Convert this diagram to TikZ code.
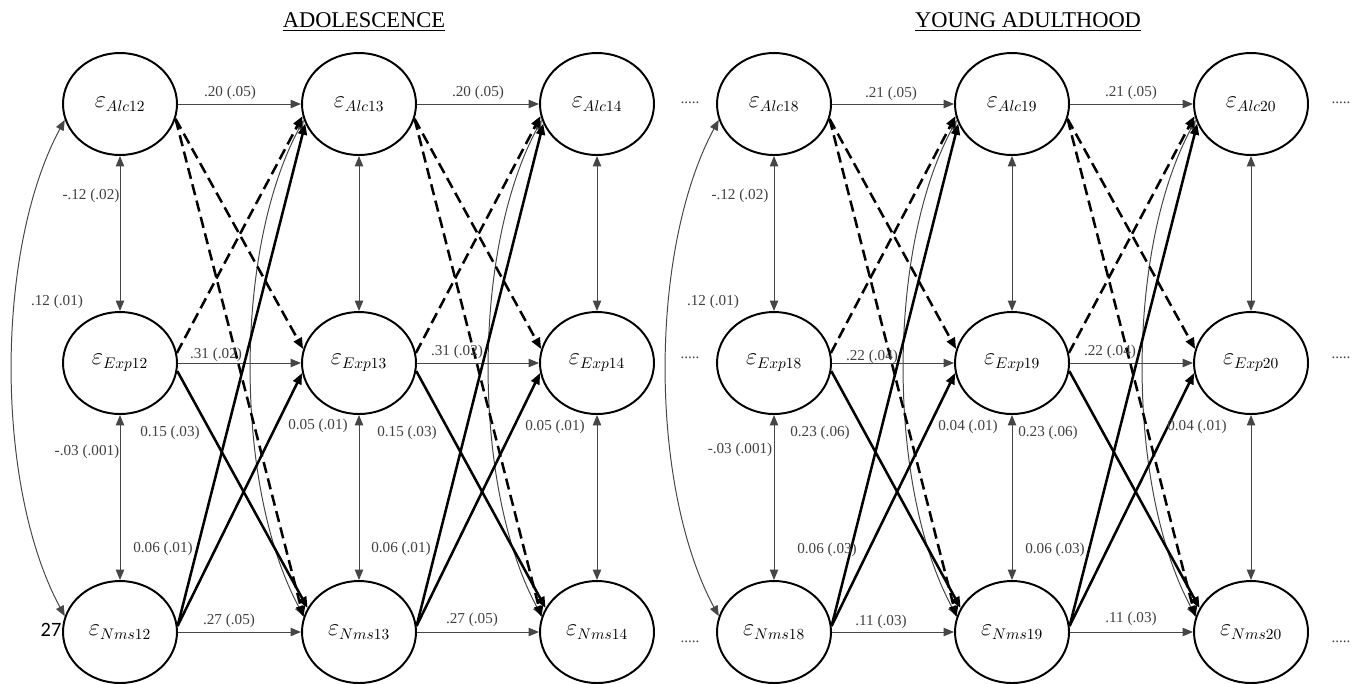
\documentclass[tikz,border=0pt]{standalone}
\usepackage{fontspec}
\setmainfont{Liberation Serif}
\newfontfamily\pagenofont{Carlito}
\usepackage{amsmath}
\usepackage{tikz}
\usetikzlibrary{shapes.geometric, arrows.meta, positioning, calc}
\definecolor{cLabel}{RGB}{64,64,64}
\definecolor{cThin}{RGB}{70,70,70}
\tikzset{
	resid/.style     ={ellipse, draw=black, line width=1.4pt, minimum width=28.5mm, minimum height=25.5mm, inner sep=0pt, font=\fontsize{16}{19}\selectfont},
	stab/.style      ={-{Triangle[length=2.6mm, width=2.1mm]}, cThin, line width=0.7pt},
	covar/.style     ={{Triangle[length=2.6mm, width=2.1mm]}-{Triangle[length=2.6mm, width=2.1mm]}, cThin, line width=0.7pt},
	crossdash/.style ={-{Triangle[length=2.8mm, width=2.2mm]}, black, line width=1.8pt, dash pattern=on 8pt off 4pt},
	crosssolid/.style={-{Triangle[length=2.8mm, width=2.2mm]}, black, line width=1.8pt},
	% text styles
	coef/.style      ={font=\fontsize{10.8}{12}\selectfont, text=cLabel, inner sep=1pt},
	ellip/.style     ={font=\fontsize{10.8}{12}\selectfont, text=cLabel, inner sep=0pt},
	paneltitle/.style={font=\fontsize{16}{19}\selectfont, inner sep=0pt},
}

\begin{document}
\begin{tikzpicture}[x=0.25mm, y=-0.25mm]
	\useasboundingbox (0,0) rectangle (1363,683);
	% titles
	\node[paneltitle, anchor=base] (tAdol) at (364,27) {\underline{ADOLESCENCE}};
	\node[paneltitle, anchor=base] (tYoung) at (1028,27) {\underline{YOUNG ADULTHOOD}};
	% residual nodes
	\node[resid] (A12) at (120,104) {$\varepsilon_{Alc12}$};
	\node[resid] (E12) at (120,363) {$\varepsilon_{Exp12}$};
	\node[resid] (N12) at (120,632) {$\varepsilon_{Nms12}$};
	\node[resid] (A13) at (359,104) {$\varepsilon_{Alc13}$};
	\node[resid] (E13) at (359,363) {$\varepsilon_{Exp13}$};
	\node[resid] (N13) at (359,632) {$\varepsilon_{Nms13}$};
	\node[resid] (A14) at (597,104) {$\varepsilon_{Alc14}$};
	\node[resid] (E14) at (597,363) {$\varepsilon_{Exp14}$};
	\node[resid] (N14) at (597,632) {$\varepsilon_{Nms14}$};
	\node[resid] (A18) at (774,104) {$\varepsilon_{Alc18}$};
	\node[resid] (E18) at (774,363) {$\varepsilon_{Exp18}$};
	\node[resid] (N18) at (774,632) {$\varepsilon_{Nms18}$};
	\node[resid] (A19) at (1012,104) {$\varepsilon_{Alc19}$};
	\node[resid] (E19) at (1012,363) {$\varepsilon_{Exp19}$};
	\node[resid] (N19) at (1012,632) {$\varepsilon_{Nms19}$};
	\node[resid] (A20) at (1251,104) {$\varepsilon_{Alc20}$};
	\node[resid] (E20) at (1251,363) {$\varepsilon_{Exp20}$};
	\node[resid] (N20) at (1251,632) {$\varepsilon_{Nms20}$};
	% within-wave covariances
	\foreach \c in {12,13,14,18,19,20}{
		\draw[covar] (A\c.south) -- (E\c.north);
		\draw[covar] (E\c.south) -- (N\c.north);
		\draw[covar] (A\c.196) .. controls +(-70,130) and +(-70,-130) .. (N\c.164);
	}
	% lagged paths
	\foreach \s/\t in {12/13,13/14,18/19,19/20}{
		\draw[stab] (A\s.east) -- (A\t.west);
		\draw[stab] (E\s.east) -- (E\t.west);
		\draw[stab] (N\s.east) -- (N\t.west);
		\draw[crossdash] (A\s.-15) -- (E\t.166);
		\draw[crossdash] (A\s.-15) -- (N\t.165);
		\draw[crossdash] (E\s.10) -- (A\t.192);
		\draw[crosssolid] (E\s.-8) -- (N\t.155);
		\draw[crosssolid] (N\s.6) -- (A\t.200);
		\draw[crosssolid] (N\s.6) -- (E\t.190);
	}
	% coefficients, adolescence
	\node[coef] (cA1) at (230,93) {.20 (.05)};
	\node[coef] (cA2) at (478,93) {.20 (.05)};
	\node[coef] (cE1) at (216,355) {.31 (.02)};
	\node[coef] (cE2) at (457,352) {.31 (.02)};
	\node[coef] (cN1) at (229,621) {.27 (.05)};
	\node[coef] (cN2) at (472,620) {.27 (.05)};
	\node[coef] (cEN1) at (170,433) {0.15 (.03)};
	\node[coef] (cEN2) at (407,433) {0.15 (.03)};
	\node[coef] (cNE1) at (318,426) {0.05 (.01)};
	\node[coef] (cNE2) at (555,427) {0.05 (.01)};
	\node[coef] (cNA1) at (163,549) {0.06 (.01)};
	\node[coef] (cNA2) at (401,549) {0.06 (.01)};
	\node[coef] (rAE1) at (91,196) {-.12 (.02)};
	\node[coef] (rEN1) at (87,452) {-.03 (.001)};
	\node[coef] (rAN1) at (57,302) {.12 (.01)};
	\node[inner sep=0pt, font=\pagenofont\fontsize{14.5}{16}\selectfont] (pageno) at (51,630) {27};
	% coefficients, young adulthood
	\node[coef] (cA3) at (891,94) {.21 (.05)};
	\node[coef] (cA4) at (1131,93) {.21 (.05)};
	\node[coef] (cE3) at (872,357) {.22 (.04)};
	\node[coef] (cE4) at (1110,352) {.22 (.04)};
	\node[coef] (cN3) at (881,622) {.11 (.03)};
	\node[coef] (cN4) at (1131,619) {.11 (.03)};
	\node[coef] (cEN3) at (820,433) {0.23 (.06)};
	\node[coef] (cEN4) at (1048,433) {0.23 (.06)};
	\node[coef] (cNE3) at (968,427) {0.04 (.01)};
	\node[coef] (cNE4) at (1197,427) {0.04 (.01)};
	\node[coef] (cNA3) at (827,550) {0.06 (.03)};
	\node[coef] (cNA4) at (1055,550) {0.06 (.03)};
	\node[coef] (rAE2) at (740,196) {-.12 (.02)};
	\node[coef] (rEN2) at (740,450) {-.03 (.001)};
	\node[coef] (rAN2) at (713,302) {.12 (.01)};
	% continuation dots
	\node[ellip] (dA18) at (690,103) {.....};
	\node[ellip] (dE18) at (690,358) {.....};
	\node[ellip] (dN18) at (690,642) {.....};
	\node[ellip] (dA20) at (1341,103) {.....};
	\node[ellip] (dE20) at (1341,358) {.....};
	\node[ellip] (dN20) at (1341,642) {.....};
\end{tikzpicture}
\end{document}
